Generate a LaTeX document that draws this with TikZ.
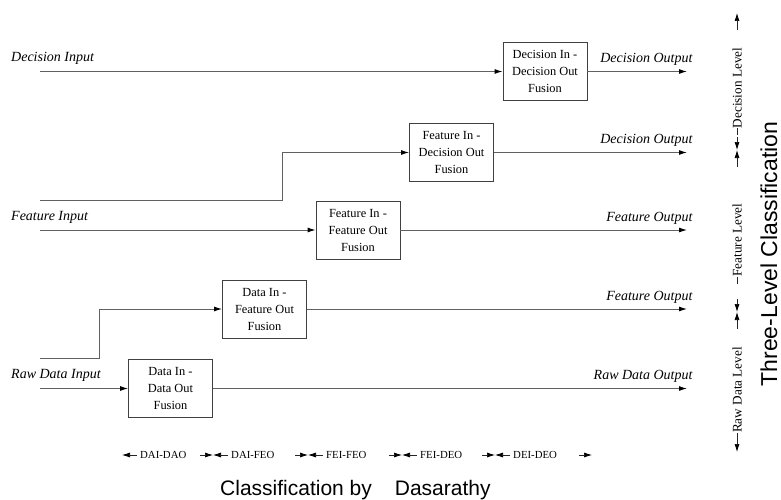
\documentclass[tikz,border=0pt]{standalone}
\usepackage{fontspec}
\setmainfont{Liberation Serif}
\setsansfont{Liberation Sans}
\usetikzlibrary{arrows.meta}
\tikzset{
  fusion/.style={draw=black!75, line width=0.8pt, minimum width=84pt,
    minimum height=58pt, inner sep=0pt, align=center,
    font=\fontsize{12.4}{17}\selectfont},
  flow/.style={draw=black!62, line width=1pt},
  tip/.style={-{Latex[length=8pt,width=5pt,color=black]}},
  iolab/.style={font=\itshape\fontsize{14}{16}\selectfont, inner sep=0pt},
  axis/.style={draw=black!85, line width=0.7pt, -{Latex[length=8pt,width=5pt,color=black]}},
  axlab/.style={font=\fontsize{10.8}{12}\selectfont, inner sep=0pt},
  lvlab/.style={font=\fontsize{13.2}{15}\selectfont, inner sep=0pt, rotate=90},
  title/.style={font=\sffamily\fontsize{21}{24}\selectfont, inner sep=0pt}}

\begin{document}
\begin{tikzpicture}[x=1pt,y=-1pt]
  \useasboundingbox (0,0) rectangle (781,500);
  % fusion boxes, raw data level up to decision level
  \node[fusion] (daidao) at (170.5,388.5) {Data In -\\Data Out\\Fusion};
  \node[fusion] (daifeo) at (264.5,309) {Data In -\\Feature Out\\Fusion};
  \node[fusion] (feifeo) at (358,230) {Feature In -\\Feature Out\\Fusion};
  \node[fusion] (feideo) at (451.5,152.5) {Feature In -\\Decision Out\\Fusion};
  \node[fusion] (deideo) at (545,71.5) {Decision In -\\Decision Out\\Fusion};

  % inputs
  \coordinate (din) at (40,71.5);
  \coordinate (fbr) at (40,200);
  \coordinate (fin) at (40,230);
  \coordinate (rbr) at (40,358);
  \coordinate (rin) at (40,388.5);
  \draw[flow,tip] (din) -- (deideo.west);
  \draw[flow,tip] (fbr) -- ++(242,0) |- (feideo.west);
  \draw[flow,tip] (fin) -- (feifeo.west);
  \draw[flow,tip] (rbr) -- ++(59,0) |- (daifeo.west);
  \draw[flow,tip] (rin) -- (daidao.west);
  \node[iolab,anchor=base west] (dinlab) at ([shift={(-29,-10)}]din) {Decision Input};
  \node[iolab,anchor=base west] (finlab) at ([shift={(-29,-10)}]fin) {Feature Input};
  \node[iolab,anchor=base west] (rinlab) at ([shift={(-29,-10)}]rin) {Raw Data Input};

  % outputs
  \coordinate (rim) at (687,0);
  \foreach \b/\lab in {deideo/Decision Output,feideo/Decision Output,
      feifeo/Feature Output,daifeo/Feature Output,daidao/Raw Data Output}
    \draw[flow,tip] (\b.east) -- (\b.east -| rim)
      node[iolab,anchor=base east,xshift=6pt,yshift=9pt] (\b out) {\lab};

  % classification by Dasarathy
  \foreach \a/\c/\lab in {122/213/DAI-DAO,213/308/DAI-FEO,308/402/FEI-FEO,
      402/495/FEI-DEO,495/592/DEI-DEO} {
    \draw[axis] (\a+15,455) -- (\a,455);
    \node[axlab,anchor=west] (lg\a) at (\a+18,455) {\lab};
    \draw[axis] (\c-13,455) -- (\c,455);
  }
  \node[title,anchor=base west] (cbd) at (220,495) {Classification by\hspace{23pt}Dasarathy};

  % three-level classification
  \foreach \t/\c/\m/\lab in {13/150/88/Decision Level,150/312/240/Feature Level,
      312/452/390/Raw Data Level} {
    \draw[axis] (737,\t+17) -- (737,\t);
    \draw[axis] (737,\c-13) -- (737,\c);
    \node[lvlab] (lv\t) at (737,\m) {\lab};
    \draw[black!85,line width=0.7pt] (lv\t.west) -- ++(0,7);
  }
  \node[title,rotate=90,anchor=base,font=\sffamily\fontsize{23}{26}\selectfont] (tlc) at (777,254) {Three-Level Classification};
\end{tikzpicture}
\end{document}
